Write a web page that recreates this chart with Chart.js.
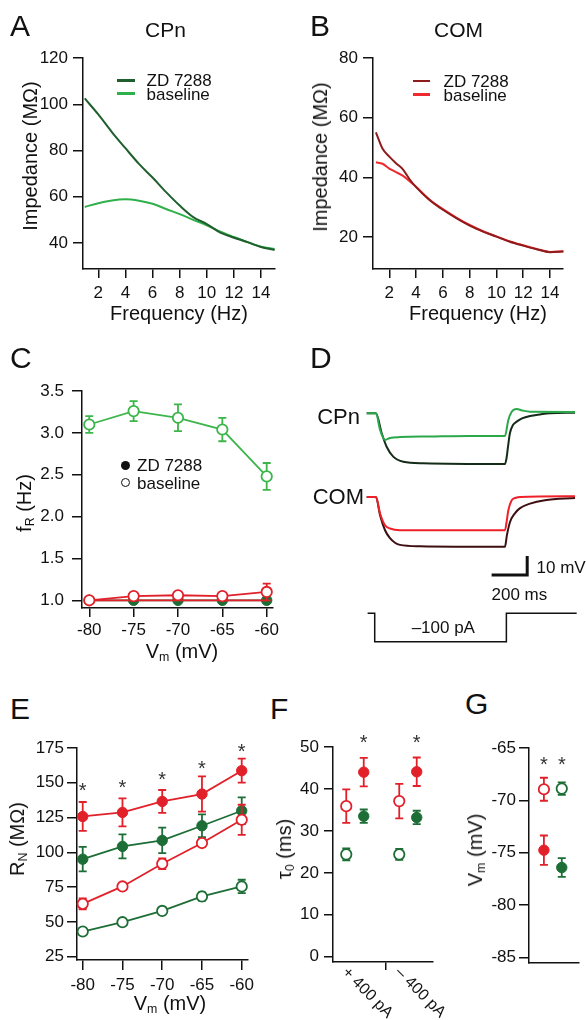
<!DOCTYPE html>
<html><head><meta charset="utf-8">
<script src="https://cdn.jsdelivr.net/npm/chart.js@4.4.1/dist/chart.umd.min.js"></script>
<style>
html,body{margin:0;padding:0;background:#fff;}
#fig{position:relative;width:586px;height:1020px;overflow:hidden;font-family:'Liberation Sans',Arial,Helvetica,sans-serif;color:#111;}
#fig canvas{position:absolute;}
.t{position:absolute;white-space:nowrap;line-height:1;}
.t sub{font-size:0.62em;vertical-align:-0.28em;line-height:0;}
.sw{position:absolute;}
</style></head>
<body><div id="fig"></div>
<script>
// ================= DATA =================
// Panel A – CPn impedance profile
const freqA = [1,2,3,4,5,6,7,8,9,10,11,12,13,14,15];
const impCPnZD   = [102.5,95.6,88.0,81.0,74.2,68.3,62.0,56.2,51.2,48.2,44.5,42.3,40.4,38.3,37.0];
const impCPnBase = [55.6,57.2,58.4,58.9,58.3,57.0,54.7,52.5,50.0,47.6,44.9,42.6,40.4,38.4,37.4];
const freqTicks = [2,4,6,8,10,12,14];
const impTicksA = [40,60,80,100,120];
// Panel B – COM impedance profile
const freqB = [1,1.5,2,2.5,3,3.5,4,5,6,7,8,9,10,11,12,13,14,15];
const impCOMZD   = [55.1,49.6,47.0,44.8,42.8,39.5,36.8,32.5,29.2,26.4,23.9,21.9,20.2,18.5,17.2,16.0,15.0,15.2];
const impCOMBase = [45.1,44.6,43.0,41.8,40.6,38.8,36.9,32.6,29.4,26.6,24.1,22.0,20.3,18.6,17.3,16.1,15.1,15.3];
const impTicksB = [20,40,60,80];
// Panel C – resonance frequency vs Vm
const vmSteps = [-80,-75,-70,-65,-60];
const fRCPnBase = [3.10,3.26,3.18,3.04,2.48];
const fRCPnBaseErr = [0.10,0.12,0.16,0.14,0.16];
const fRCOMBase = [1.00,1.05,1.06,1.05,1.10];
const fRCOMBaseErr = [0,0.02,0.02,0.02,0.10];
const fRCPnZD = [1,1,1,1,1];
const fRCOMZD = [1,1,1,1,1];
const fRTicks = [1.0,1.5,2.0,2.5,3.0,3.5];
// Panel D – example voltage responses (ms, mV deflection)
const cpnBaseT = [0,52,75,103,131,187,356,581,777,796,815,843,873,918,1171];
const cpnBaseV = [0,0,-8.7,-14.0,-13.0,-12.5,-12.2,-11.9,-11.9,-3.5,0.8,2.3,1.5,0.8,0.7];
const cpnZDT = [0,52,84,112,149,206,318,777,786,794,805,822,843,873,918,974,1031,1171];
const cpnZDV = [0,0,-10.4,-17.6,-22.8,-25.5,-26.3,-26.7,-23.5,-17.7,-10.4,-6.2,-4.4,-2.7,-1.4,-0.6,0,0.3];
const comBaseT = [0,52,75,103,131,187,777,786,796,815,839,862,1171];
const comBaseV = [0,0,-8.7,-14.9,-16.6,-17.5,-17.5,-13.3,-7.0,-1.7,-0.4,0,0.4];
const comZDT = [0,52,75,103,131,159,187,300,777,788,805,833,862,918,1002,1171];
const comZDV = [0,0,-9.6,-17.5,-21.7,-24.1,-25.2,-25.9,-26.2,-20.1,-13.3,-8.6,-5.9,-3.5,-1.7,-0.5];
const scaleBarT = [702,902,902];
const scaleBarV = [-85,-85,-75];
const stepT = [5,45,45,785,785,1180];
const stepI = [0,0,-100,-100,0,0];
// Panel E – input resistance vs Vm
const rnCOMZD = [125.8,128.7,136.6,141.9,158.7];
const rnCOMZDErr = [10.4,10.1,8.2,12.7,8.6];
const rnCPnZD = [95.1,104.3,108.6,119.1,129.9];
const rnCPnZDErr = [8.8,8.6,9.1,8.2,9.6];
const rnCOMBase = [63.0,75.5,91.8,106.7,123.4];
const rnCOMBaseErr = [3.9,2.5,3.8,2.6,10.8];
const rnCPnBase = [43.1,49.8,57.9,68.3,75.5];
const rnCPnBaseErr = [1.5,1.5,1.5,3.0,4.8];
const rnStars = [147.9,149.8,155.8,163.7,175.7];
const rnTicks = [25,50,75,100,125,150,175];
// Panel F – tau0
const tauGroups = ['+ 400 pA','\u2013 400 pA'];
const tauCOMBase = [35.9,37.1];
const tauCOMBaseErr = [4.0,4.1];
const tauCPnBase = [24.4,24.4];
const tauCPnBaseErr = [1.4,1.3];
const tauCOMZD = [44.0,44.1];
const tauCOMZDErr = [3.4,3.4];
const tauCPnZD = [33.5,33.2];
const tauCPnZDErr = [1.6,1.6];
const tauStars = [52.2,52.2];
const tauTicks = [0,10,20,30,40,50];
// Panel G – resting Vm
const vmCells = ['COM','CPn'];
const vmBase = [-68.94,-68.88];
const vmBaseErr = [1.1,0.6];
const vmZD = [-74.76,-76.42];
const vmZDErr = [1.4,0.9];
const vmStars = [-66.1,-66.1];
const vmTicks = [-85,-80,-75,-70,-65];

// ================= STYLE =================
const FONT = "'Liberation Sans', Arial, Helvetica, sans-serif";
const INK = '#111';
const C_CPN_ZD_A = '#1f5f2e', C_CPN_BASE_A = '#30b04a';
const C_COM_ZD_B = '#8f1c1c', C_COM_BASE_B = '#ee2a2f';
const C_GREEN_LIGHT = '#3cb54a', C_GREEN = '#1d6e36', C_RED = '#e2202a';
const D_CPN_BASE = '#2aa84a', D_CPN_ZD = '#142b18', D_COM_BASE = '#ee2129', D_COM_ZD = '#3d0f10';
const COM_OFFSET = -44;      // vertical offset of COM traces in panel D (display only)
const F_BASE_OFF = 0.25, F_ZD_OFF = 0.58; // within-group offsets in panel F

Chart.defaults.font.family = FONT;
Chart.defaults.font.size = 17;
Chart.defaults.color = INK;

const fig = document.getElementById('fig');
function makeCanvas(left, top, w, h) {
  const c = document.createElement('canvas');
  c.width = w; c.height = h;
  c.style.left = left + 'px'; c.style.top = top + 'px';
  c.style.width = w + 'px'; c.style.height = h + 'px';
  fig.appendChild(c);
  return c;
}
function txt(html, x, y, size, align, rot) {
  const d = document.createElement('div');
  d.className = 't'; d.innerHTML = html;
  d.style.fontSize = size + 'px';
  d.style.left = x + 'px'; d.style.top = y + 'px';
  if (rot) d.style.transform = 'translate(-50%,-50%) rotate(' + rot + 'deg)';
  else d.style.transform = 'translate(' + (align === 'center' ? '-50%' : align === 'right' ? '-100%' : '0') + ',-50%)';
  fig.appendChild(d);
}
function swatch(x, y, w, h, css) {
  const d = document.createElement('div');
  d.className = 'sw';
  d.style.left = x + 'px'; d.style.top = y + 'px'; d.style.width = w + 'px'; d.style.height = h + 'px';
  d.style.cssText += css;
  fig.appendChild(d);
}

function axis(o) {
  return {
    type: 'linear', position: o.pos, min: o.min, max: o.max, bounds: 'data',
    afterBuildTicks: s => { s.ticks = (o.ticks || []).map(v => ({ value: v })); },
    afterFit: s => { if (o.pos === 'bottom') s.height = o.size; else s.width = o.size; },
    grid: { display: (o.tickLen || 0) > 0, drawOnChartArea: false, drawTicks: true, tickLength: o.tickLen || 0, color: INK, lineWidth: 1.5 },
    border: { display: true, color: INK, width: 1.5 },
    ticks: { display: !!o.labels, padding: o.pad || 0, autoSkip: false, maxRotation: 0, minRotation: 0, color: INK,
             font: { size: 17 }, callback: v => (o.fmt ? o.fmt(v) : String(v)) }
  };
}
function pts(xs, ys) { return xs.map((x, i) => ({ x: x, y: ys[i] })); }
function lineDs(xs, ys, color, w, smooth) {
  return { data: pts(xs, ys), borderColor: color, backgroundColor: color, borderWidth: w, pointRadius: 0,
           fill: false, tension: smooth ? 0.4 : 0, cubicInterpolationMode: smooth ? 'monotone' : 'default', clip: false };
}
function markDs(xs, ys, err, color, open, showLine) {
  return { data: pts(xs, ys), err: err, borderColor: color, backgroundColor: color, borderWidth: 1.8,
           showLine: showLine, pointRadius: 5.2, pointHoverRadius: 5.2, pointBorderWidth: open ? 1.8 : 1,
           pointBackgroundColor: open ? '#fff' : color, pointBorderColor: color, tension: 0, clip: false };
}

const errPlugin = {
  id: 'errbars',
  beforeDatasetDraw(chart, args) {
    const ds = chart.data.datasets[args.index];
    if (!ds.err) return;
    const ys = chart.scales[args.meta.yAxisID];
    const ctx = chart.ctx;
    ctx.save();
    ctx.strokeStyle = ds.borderColor; ctx.lineWidth = 1.8;
    args.meta.data.forEach((p, i) => {
      const e = ds.err[i]; if (!e) return;
      const v = ds.data[i].y;
      const yt = ys.getPixelForValue(v + e), yb = ys.getPixelForValue(v - e);
      ctx.beginPath();
      ctx.moveTo(p.x, yt); ctx.lineTo(p.x, yb);
      ctx.moveTo(p.x - 4, yt); ctx.lineTo(p.x + 4, yt);
      ctx.moveTo(p.x - 4, yb); ctx.lineTo(p.x + 4, yb);
      ctx.stroke();
    });
    ctx.restore();
  }
};
const starPlugin = {
  id: 'stars',
  afterDatasetsDraw(chart, args, opts) {
    if (!opts || !opts.xs) return;
    const ctx = chart.ctx, xs = chart.scales.x, ys = chart.scales.y, sz = opts.size || 20;
    ctx.save();
    ctx.fillStyle = '#333'; ctx.font = sz + 'px ' + FONT; ctx.textAlign = 'center'; ctx.textBaseline = 'alphabetic';
    opts.xs.forEach((x, i) => ctx.fillText('*', xs.getPixelForValue(x), ys.getPixelForValue(opts.ys[i]) + 0.57 * sz));
    ctx.restore();
  }
};
const groupLabelPlugin = {
  id: 'groupLabels',
  afterDraw(chart, args, opts) {
    if (!opts || !opts.labels) return;
    const ctx = chart.ctx, xs = chart.scales.x, y0 = chart.chartArea.bottom + opts.dy;
    ctx.save();
    ctx.fillStyle = INK; ctx.font = opts.size + 'px ' + FONT; ctx.textAlign = 'left'; ctx.textBaseline = 'middle';
    opts.labels.forEach((lab, i) => {
      ctx.save(); ctx.translate(xs.getPixelForValue(opts.xs[i]), y0); ctx.rotate(opts.angle * Math.PI / 180);
      ctx.fillText(lab, 0, 0); ctx.restore();
    });
    ctx.restore();
  }
};

function chart(canvas, pad, scales, bottomToTop, pluginOpts) {
  return new Chart(canvas, {
    type: 'line',
    data: { datasets: bottomToTop.slice().reverse() },
    options: {
      responsive: false, animation: false, devicePixelRatio: 1, events: [],
      layout: { padding: pad },
      scales: scales,
      plugins: Object.assign({ legend: { display: false }, tooltip: { enabled: false } }, pluginOpts || {})
    },
    plugins: [errPlugin, starPlugin, groupLabelPlugin]
  });
}

// ---------- Panel A ----------
chart(makeCanvas(0, 40, 290, 300), { top: 18, right: 15, left: 0, bottom: 0 }, {
  x: axis({ pos: 'bottom', min: 0.872, max: 15.03, ticks: freqTicks, size: 71, tickLen: 9, pad: 5, labels: true }),
  y: axis({ pos: 'left', min: 28.76, max: 120, ticks: impTicksA, size: 83, tickLen: 10, pad: 5, labels: true })
}, [
  lineDs(freqA, impCPnBase, C_CPN_BASE_A, 2, true),
  lineDs(freqA, impCPnZD, C_CPN_ZD_A, 2, true)
]);

// ---------- Panel B ----------
chart(makeCanvas(290, 40, 296, 300), { top: 18, right: 23, left: 0, bottom: 0 }, {
  x: axis({ pos: 'bottom', min: 0.783, max: 14.97, ticks: freqTicks, size: 71, tickLen: 9, pad: 5, labels: true }),
  y: axis({ pos: 'left', min: 9.37, max: 80, ticks: impTicksB, size: 83, tickLen: 10, pad: 5, labels: true })
}, [
  lineDs(freqB, impCOMBase, C_COM_BASE_B, 2, true),
  lineDs(freqB, impCOMZD, C_COM_ZD_B, 2, true)
]);

// ---------- Panel C ----------
chart(makeCanvas(0, 370, 290, 300), { top: 21, right: 17, left: 0, bottom: 0 }, {
  x: axis({ pos: 'bottom', min: -80.82, max: -59.29, ticks: vmSteps, size: 62, tickLen: 9, pad: 3, labels: true }),
  y: axis({ pos: 'left', min: 0.908, max: 3.5, ticks: fRTicks, size: 82, tickLen: 10, pad: 8, labels: true, fmt: v => v.toFixed(1) })
}, [
  markDs(vmSteps, fRCPnBase, fRCPnBaseErr, C_GREEN_LIGHT, true, true),
  markDs(vmSteps, fRCPnZD, null, C_GREEN, false, true),
  Object.assign(markDs(vmSteps, fRCOMZD, null, C_RED, false, true), { pointRadius: 0 }),
  markDs(vmSteps, fRCOMBase, fRCOMBaseErr, C_RED, true, true)
]);

// ---------- Panel D ----------
const offs = (arr, o) => arr.map(v => v + o);
chart(makeCanvas(360, 395, 226, 260), 0, {
  x: { type: 'linear', display: false, min: -37.7, max: 1232.5 },
  y: { type: 'linear', display: false, min: -127.1, max: 9.6 },
  yI: { type: 'linear', display: false, min: -146.8, max: 768.7 }
}, [
  lineDs(cpnZDT, cpnZDV, D_CPN_ZD, 2, true),
  lineDs(cpnBaseT, cpnBaseV, D_CPN_BASE, 2, true),
  lineDs(comZDT, offs(comZDV, COM_OFFSET), D_COM_ZD, 2, true),
  lineDs(comBaseT, offs(comBaseV, COM_OFFSET), D_COM_BASE, 2, true),
  Object.assign(lineDs(scaleBarT, scaleBarV, INK, 3, false), { borderJoinStyle: 'miter' }),
  Object.assign(lineDs(stepT, stepI, INK, 1.5, false), { yAxisID: 'yI', borderJoinStyle: 'miter' })
]);

// ---------- Panel E ----------
chart(makeCanvas(0, 725, 290, 295), { top: 23, right: 42, left: 0, bottom: 0 }, {
  x: axis({ pos: 'bottom', min: -80.72, max: -59.21, ticks: vmSteps, size: 60, tickLen: 10, pad: 5, labels: true }),
  y: axis({ pos: 'left', min: 22.63, max: 175, ticks: rnTicks, size: 77, tickLen: 10, pad: 3, labels: true })
}, [
  markDs(vmSteps, rnCPnBase, rnCPnBaseErr, C_GREEN, true, true),
  markDs(vmSteps, rnCPnZD, rnCPnZDErr, C_GREEN, false, true),
  markDs(vmSteps, rnCOMZD, rnCOMZDErr, C_RED, false, true),
  markDs(vmSteps, rnCOMBase, rnCOMBaseErr, C_RED, true, true)
], { stars: { xs: vmSteps, ys: rnStars, size: 20 } });

// ---------- Panel F ----------
const gBase = tauGroups.map((g, i) => i + F_BASE_OFF);
const gZD = tauGroups.map((g, i) => i + F_ZD_OFF);
chart(makeCanvas(290, 725, 160, 295), { top: 22, right: 17, left: 0, bottom: 0 }, {
  x: axis({ pos: 'bottom', min: 0, max: 1.887, ticks: [1], size: 58, tickLen: 8, pad: 0, labels: false }),
  y: axis({ pos: 'left', min: -1.26, max: 50, ticks: tauTicks, size: 43, tickLen: 9, pad: 5, labels: true })
}, [
  markDs(gBase, tauCPnBase, tauCPnBaseErr, C_GREEN, true, false),
  markDs(gBase, tauCOMBase, tauCOMBaseErr, C_RED, true, false),
  markDs(gZD, tauCPnZD, tauCPnZDErr, C_GREEN, false, false),
  markDs(gZD, tauCOMZD, tauCOMZDErr, C_RED, false, false)
], {
  stars: { xs: gZD, ys: tauStars, size: 20 },
  groupLabels: { labels: tauGroups, xs: tauGroups.map((g, i) => i + 0.22), dy: 8, angle: 45, size: 16 }
});

// ---------- Panel G ----------
const cellX = vmCells.map((c, i) => i + 1);
const cellColor = [C_RED, C_GREEN];
chart(makeCanvas(450, 725, 136, 295), { top: 23, right: 1, left: 0, bottom: 0 }, {
  x: axis({ pos: 'bottom', min: 0.165, max: 2.965, ticks: [], size: 57, tickLen: 0, labels: false }),
  y: axis({ pos: 'left', min: -85.54, max: -65, ticks: vmTicks, size: 79, tickLen: 10, pad: 3, labels: true })
}, vmCells.map((c, i) => markDs([cellX[i]], [vmZD[i]], [vmZDErr[i]], cellColor[i], false, false))
   .concat(vmCells.map((c, i) => markDs([cellX[i]], [vmBase[i]], [vmBaseErr[i]], cellColor[i], true, false))),
 { stars: { xs: cellX, ys: vmStars, size: 20 } });

// ================= TEXT =================
// panel letters
txt('A', 10, 26, 30); txt('B', 310, 26, 30);
txt('C', 10, 357.5, 30); txt('D', 310, 358, 30);
txt('E', 10, 709, 30); txt('F', 270, 709, 30); txt('G', 465, 704, 30);
// titles
txt('CPn', 165.5, 29, 21, 'center'); txt('COM', 458.5, 29, 21, 'center');
// axis titles
txt('Frequency (Hz)', 179, 313, 20, 'center');
txt('Frequency (Hz)', 478, 313, 20, 'center');
txt('Impedance (M\u03A9)', 30, 156, 20, null, -90);
txt('Impedance (M\u03A9)', 320, 157, 20, null, -90);
txt('f<sub>R</sub> (Hz)', 24, 503, 20, null, -90);
txt('V<sub>m</sub> (mV)', 182, 651, 20, 'center');
txt('R<sub>N</sub> (M\u03A9)', 17, 839, 20, null, -90);
txt('V<sub>m</sub> (mV)', 170, 1003, 20, 'center');
txt('\u03C4<sub>0</sub> (ms)', 284, 849, 20, null, -90);
txt('V<sub>m</sub> (mV)', 475, 850, 20, null, -90);
// legends A, B
swatch(117, 79, 18, 2.5, 'background:' + C_CPN_ZD_A);
swatch(117, 92, 18, 2.5, 'background:' + C_CPN_BASE_A);
txt('ZD 7288', 146.5, 80, 17); txt('baseline', 146.5, 94, 17);
swatch(413, 79.5, 17, 2.5, 'background:' + C_COM_ZD_B);
swatch(413, 93, 17, 2.5, 'background:' + C_COM_BASE_B);
txt('ZD 7288', 443.5, 80.5, 17); txt('baseline', 443.5, 94.5, 17);
// legend C
swatch(120.5, 460.5, 9, 9, 'background:#111;border-radius:50%;');
swatch(120.5, 478.2, 9, 9, 'box-sizing:border-box;border:1.5px solid #111;border-radius:50%;background:#fff;');
txt('ZD 7288', 137, 465, 17); txt('baseline', 137, 483, 17);
// panel D labels
txt('CPn', 360, 416.7, 22, 'right'); txt('COM', 364, 496.7, 22, 'right');
txt('10 mV', 536.5, 566.5, 17); txt('200 ms', 491.5, 593.5, 17);
txt('\u2013100 pA', 443.3, 626.7, 17, 'center');
</script>
</body></html>
